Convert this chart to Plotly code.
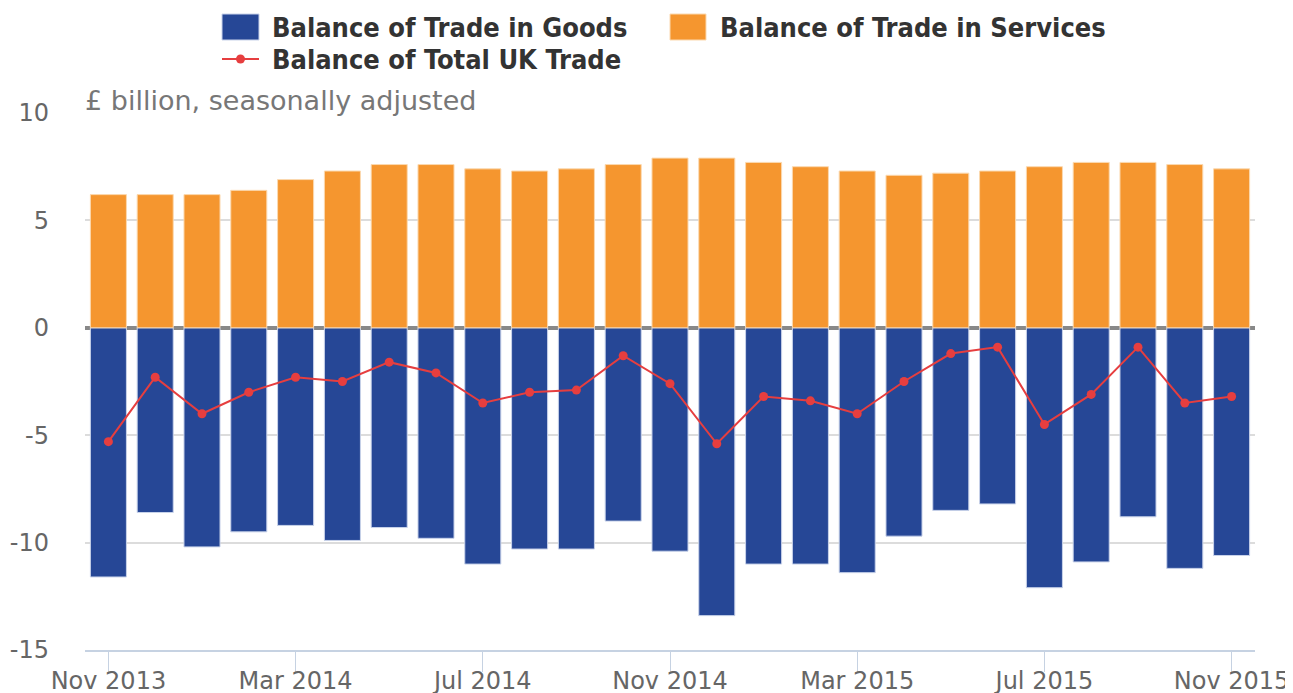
import plotly.graph_objects as go

months = [
    "Nov 2013", "Dec 2013", "Jan 2014", "Feb 2014", "Mar 2014", "Apr 2014",
    "May 2014", "Jun 2014", "Jul 2014", "Aug 2014", "Sep 2014", "Oct 2014",
    "Nov 2014", "Dec 2014", "Jan 2015", "Feb 2015", "Mar 2015", "Apr 2015",
    "May 2015", "Jun 2015", "Jul 2015", "Aug 2015", "Sep 2015", "Oct 2015",
    "Nov 2015",
]
goods = [
    -11.6, -8.6, -10.2, -9.5, -9.2, -9.9, -9.3, -9.8, -11.0, -10.3, -10.3, -9.0,
    -10.4, -13.4, -11.0, -11.0, -11.4, -9.7, -8.5, -8.2, -12.1, -10.9, -8.8,
    -11.2, -10.6,
]
services = [
    6.2, 6.2, 6.2, 6.4, 6.9, 7.3, 7.6, 7.6, 7.4, 7.3, 7.4, 7.6,
    7.9, 7.9, 7.7, 7.5, 7.3, 7.1, 7.2, 7.3, 7.5, 7.7, 7.7, 7.6, 7.4,
]
total = [
    -5.3, -2.3, -4.0, -3.0, -2.3, -2.5, -1.6, -2.1, -3.5, -3.0, -2.9, -1.3,
    -2.6, -5.4, -3.2, -3.4, -4.0, -2.5, -1.2, -0.9, -4.5, -3.1, -0.9, -3.5, -3.2,
]
tick_labels = ["Nov 2013", "Mar 2014", "Jul 2014", "Nov 2014", "Mar 2015", "Jul 2015", "Nov 2015"]
y_ticks = [-15, -10, -5, 0, 5, 10]

GOODS_C = "#264796"
SERV_C = "#f5962f"
TOTAL_C = "#e63e3f"

fig = go.Figure()
fig.add_trace(go.Bar(
    x=months, y=goods, name="Balance of Trade in Goods", showlegend=False,
    marker=dict(color=GOODS_C, line=dict(color="#c9d3ea", width=1)),
))
fig.add_trace(go.Bar(
    x=months, y=services, name="Balance of Trade in Services", showlegend=False,
    marker=dict(color=SERV_C, line=dict(color="#fbd9b0", width=1)),
))
fig.add_trace(go.Scatter(
    x=months, y=total, name="Balance of Total UK Trade", mode="lines+markers",
    showlegend=False,
    line=dict(color=TOTAL_C, width=2), marker=dict(color=TOTAL_C, size=9),
))

# hand-drawn legend (pixel offsets from the plot's top-left corner)
legend_font = dict(family="DejaVu Sans Condensed", size=27, color="#333333", weight="bold")
shapes = [
    dict(type="rect", xref="paper", yref="paper", xsizemode="pixel", ysizemode="pixel",
         xanchor=0, yanchor=1, x0=137, x1=174, y0=73, y1=99,
         fillcolor=GOODS_C, line=dict(color="#c9d3ea", width=1)),
    dict(type="rect", xref="paper", yref="paper", xsizemode="pixel", ysizemode="pixel",
         xanchor=0, yanchor=1, x0=585, x1=621, y0=73, y1=99,
         fillcolor=SERV_C, line=dict(color="#fbd9b0", width=1)),
    dict(type="line", xref="paper", yref="paper", xsizemode="pixel", ysizemode="pixel",
         xanchor=0, yanchor=1, x0=137, x1=174, y0=54, y1=54,
         line=dict(color=TOTAL_C, width=2)),
    dict(type="circle", xref="paper", yref="paper", xsizemode="pixel", ysizemode="pixel",
         xanchor=0, yanchor=1, x0=151, x1=160, y0=49.5, y1=58.5,
         fillcolor=TOTAL_C, line=dict(color=TOTAL_C, width=0)),
]
annotations = [
    dict(text="£ billion, seasonally adjusted", xref="paper", yref="paper",
         x=0, y=1, xanchor="left", yanchor="bottom", showarrow=False,
         font=dict(size=27, color="#777777"), yshift=-5, xshift=-2),
]
for label, dx, dy in [
    ("Balance of Trade in Goods", 185, 86),
    ("Balance of Trade in Services", 633, 86),
    ("Balance of Total UK Trade", 185, 54),
]:
    annotations.append(dict(
        text=label, xref="paper", yref="paper", x=0, y=1, xanchor="left",
        yanchor="middle", showarrow=False, xshift=dx, yshift=dy, font=legend_font,
    ))

fig.update_layout(
    width=1285, height=685,
    barmode="relative", bargap=0.23,
    plot_bgcolor="white", paper_bgcolor="white",
    margin=dict(l=77, r=38, t=105, b=43, autoexpand=False),
    font=dict(family="DejaVu Sans", color="#666666", size=24),
    showlegend=False,
    shapes=shapes,
    annotations=annotations,
)
fig.update_xaxes(
    type="category", range=[-0.5, 24.5],
    tickmode="array", tickvals=tick_labels, ticktext=tick_labels,
    showline=True, linecolor="#c6d2e2", linewidth=2, ticks="outside",
    tickcolor="#c6d2e2", ticklen=20, tickwidth=1, showgrid=False,
    ticklabelstandoff=-12,
    tickfont=dict(size=24, color="#666666"),
)
fig.update_yaxes(
    range=[-15, 10], tickmode="array", tickvals=y_ticks,
    ticktext=[str(v) for v in y_ticks],
    showgrid=True, gridcolor="#dcdcdc", gridwidth=2,
    zeroline=True, zerolinecolor="#888888", zerolinewidth=4,
    ticklabelstandoff=35, tickfont=dict(size=24, color="#666666"),
)

fig.write_html("out.html")
